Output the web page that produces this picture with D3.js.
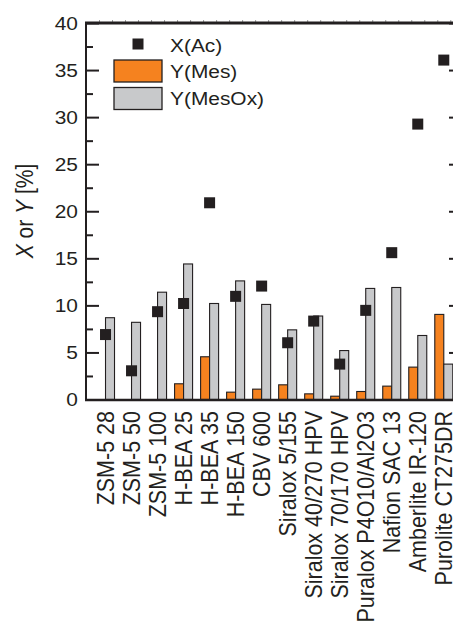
<!DOCTYPE html>
<html>
<head>
<meta charset="utf-8">
<script src="https://cdn.jsdelivr.net/npm/d3@7"></script>
<style>
  body { margin: 0; background: #fff; }
  svg text { font-family: "Liberation Sans", Arial, Helvetica, sans-serif; fill: #231f20; }
</style>
</head>
<body>
<svg id="chart" width="453" height="627"></svg>
<script>
// catalysts along the x axis
const catalysts = [
  "ZSM-5 28", "ZSM-5 50", "ZSM-5 100", "H-BEA 25", "H-BEA 35", "H-BEA 150",
  "CBV 600", "Siralox 5/155", "Siralox 40/270 HPV", "Siralox 70/170 HPV",
  "Puralox P4O10/Al2O3", "Nafion SAC 13", "Amberlite IR-120", "Purolite CT275DR"
];
// conversion of acetone X(Ac), squares
const xAc = [6.9, 3.05, 9.33, 10.2, 20.9, 10.96, 12.05, 6.03, 8.33, 3.76, 9.47, 15.6, 29.26, 36.06];
// yield of mesitylene Y(Mes), orange bars
const yMes = [0, 0, 0, 1.67, 4.54, 0.78, 1.1, 1.56, 0.6, 0.35, 0.85, 1.42, 3.44, 9.04];
// yield of mesityl oxide Y(MesOx), grey bars
const yMesOx = [8.69, 8.2, 11.4, 14.4, 10.2, 12.6, 10.1, 7.4, 8.87, 5.2, 11.8, 11.9, 6.8, 3.76];
const yTicks = [0, 5, 10, 15, 20, 25, 30, 35, 40];

const svg = d3.select("#chart");
const ink = "#231f20";
const orange = "#f5821f";
const grey = "#c8c9cb";
const fontSize = 19;
const labelSize = 21.5;
// the original figure is a bit wider than tall, text glyphs are stretched sideways
const stretch = 1.1;

const plotLeft = 86, plotRight = 462, plotTop = 23, plotBottom = 399.5;
const barW = 9;

// category index -> pixel, centre of each group
const x = d3.scaleLinear().domain([-0.75, 13.7]).range([plotLeft, plotRight]);
const y = d3.scaleLinear().domain([0, 40]).range([plotBottom, plotTop]);

const data = catalysts.map((name, i) => ({ name, i, ac: xAc[i], mes: yMes[i], mesox: yMesOx[i] }));

// bars: Y(Mes) left of centre, Y(MesOx) right of centre
const bars = svg.append("g");
bars.selectAll("rect.mes")
  .data(data.filter(d => d.mes > 0))
  .join("rect")
  .attr("class", "mes")
  .attr("x", d => x(d.i) - barW)
  .attr("y", d => y(d.mes))
  .attr("width", barW)
  .attr("height", d => y(0) - y(d.mes))
  .attr("fill", orange)
  .attr("stroke", ink)
  .attr("stroke-width", 1.1);

bars.selectAll("rect.mesox")
  .data(data)
  .join("rect")
  .attr("class", "mesox")
  .attr("x", d => x(d.i))
  .attr("y", d => y(d.mesox))
  .attr("width", barW)
  .attr("height", d => y(0) - y(d.mesox))
  .attr("fill", grey)
  .attr("stroke", ink)
  .attr("stroke-width", 1.1);

// X(Ac) square markers
const sq = 11;
svg.append("g")
  .selectAll("rect")
  .data(data)
  .join("rect")
  .attr("x", d => x(d.i) - sq / 2)
  .attr("y", d => y(d.ac) - sq / 2)
  .attr("width", sq)
  .attr("height", sq)
  .attr("fill", ink);

// axes - ticks point inward on both sides
const minor = d3.range(2.5, 40, 5);

const yLeft = svg.append("g").attr("transform", `translate(${plotLeft},0)`);
yLeft.call(d3.axisRight(y).tickValues(yTicks).tickSize(13).tickFormat(""));
yLeft.append("g").call(d3.axisRight(y).tickValues(minor).tickSize(7).tickFormat(""));
yLeft.selectAll(".domain").remove();
yLeft.selectAll("line").attr("stroke", ink).attr("stroke-width", 2);
yLeft.append("line")
  .attr("y1", plotTop).attr("y2", plotBottom + 1)
  .attr("stroke", ink).attr("stroke-width", 2);
yLeft.selectAll("text.lab")
  .data(yTicks)
  .join("text")
  .attr("class", "lab")
  .attr("transform", d => `translate(-8,${y(d)}) scale(${stretch},1)`)
  .attr("dy", "0.36em")
  .attr("text-anchor", "end")
  .attr("font-size", fontSize)
  .text(d => d);

const yRight = svg.append("g").attr("transform", `translate(${plotRight},0)`);
yRight.call(d3.axisLeft(y).tickValues(yTicks).tickSize(13).tickFormat(""));
yRight.append("g").call(d3.axisLeft(y).tickValues(minor).tickSize(7).tickFormat(""));
yRight.selectAll(".domain").remove();
yRight.selectAll("line").attr("stroke", ink).attr("stroke-width", 2);

// faint minor ticks along the top frame
const xTop = svg.append("g").attr("transform", `translate(0,${plotTop - 1})`);
xTop.call(d3.axisTop(x).tickValues(d3.range(-0.25, 13.7, 0.5)).tickSize(2).tickFormat(""));
xTop.selectAll(".domain").remove();
xTop.selectAll("line").attr("stroke", "#999").attr("stroke-width", 1);

// top and bottom frame
svg.append("line")
  .attr("x1", plotLeft - 1).attr("x2", 453)
  .attr("y1", plotTop).attr("y2", plotTop)
  .attr("stroke", ink).attr("stroke-width", 3);
svg.append("line")
  .attr("x1", plotLeft - 1).attr("x2", 453)
  .attr("y1", plotBottom + 0.5).attr("y2", plotBottom + 0.5)
  .attr("stroke", ink).attr("stroke-width", 2.5);

// category labels, rotated
svg.append("g")
  .selectAll("text")
  .data(data)
  .join("text")
  .attr("transform", d => `translate(${x(d.i) + 8.5},411) scale(${stretch},1) rotate(-90)`)
  .attr("text-anchor", "end")
  .attr("font-size", labelSize)
  .text(d => d.name);

// y axis title
const title = svg.append("text")
  .attr("transform", `translate(33,211) scale(${stretch},1) rotate(-90)`)
  .attr("text-anchor", "middle")
  .attr("font-size", 21);
title.append("tspan").attr("font-style", "italic").text("X");
title.append("tspan").text(" or ");
title.append("tspan").attr("font-style", "italic").text("Y");
title.append("tspan").text(" [%]");

// legend
const legend = svg.append("g");
legend.append("rect")
  .attr("x", 138 - sq / 2).attr("y", 44 - sq / 2)
  .attr("width", sq).attr("height", sq)
  .attr("fill", ink);
legend.append("rect")
  .attr("x", 114).attr("y", 60).attr("width", 48).attr("height", 22)
  .attr("fill", orange).attr("stroke", ink).attr("stroke-width", 1.3);
legend.append("rect")
  .attr("x", 114).attr("y", 87.5).attr("width", 48).attr("height", 22)
  .attr("fill", grey).attr("stroke", ink).attr("stroke-width", 1.3);
const legendText = [["X(Ac)", 45], ["Y(Mes)", 71.5], ["Y(MesOx)", 98.5]];
legend.selectAll("text")
  .data(legendText)
  .join("text")
  .attr("transform", d => `translate(170,${d[1]}) scale(${stretch},1)`)
  .attr("dy", "0.36em")
  .attr("font-size", fontSize)
  .text(d => d[0]);
</script>
</body>
</html>
